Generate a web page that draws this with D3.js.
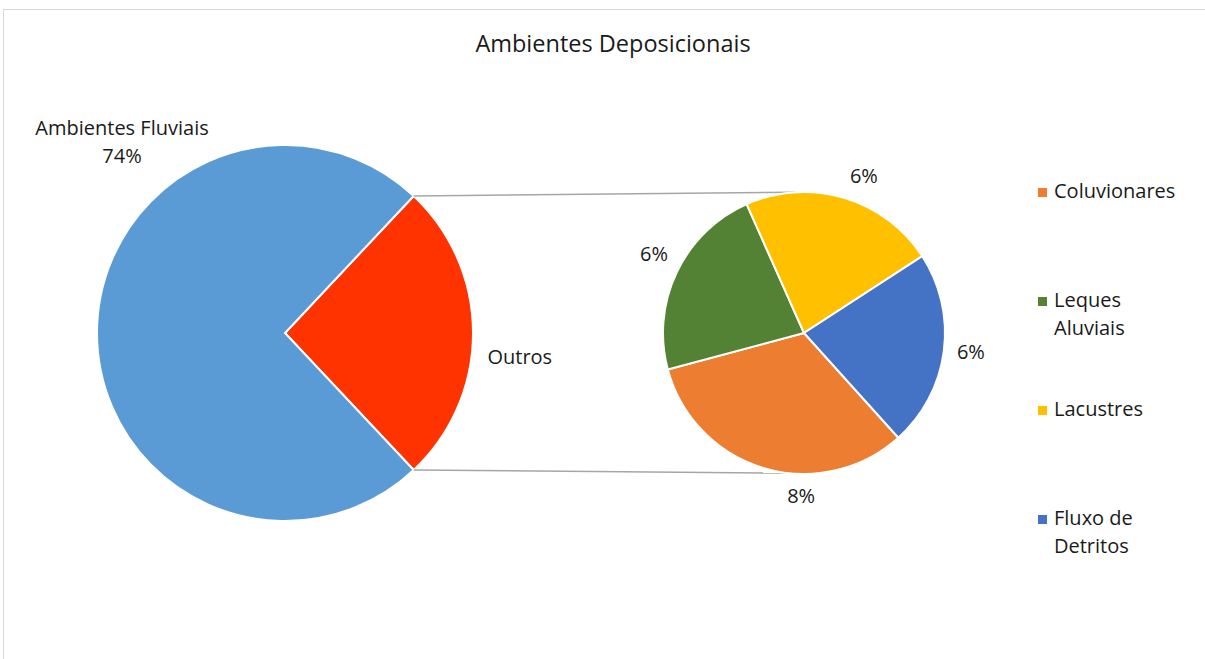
<!DOCTYPE html>
<html>
<head>
<meta charset="utf-8">
<script src="https://cdn.jsdelivr.net/npm/d3@7"></script>
<style>
  body { margin: 0; background: #fff; }
  text { font-family: "Open Sans", "Noto Sans", sans-serif; fill: #1a1a1a; }
</style>
</head>
<body>
<svg></svg>
<script>
// dados
const mainNames = ['Outros', 'Ambientes Fluviais'];
const mainValues = [26, 74];
const subNames = ['Coluvionares', 'Leques Aluviais', 'Lacustres', 'Fluxo de Detritos'];
const subValues = [8.45, 5.85, 5.85, 5.85];
const legendLines = [['Coluvionares'], ['Leques', 'Aluviais'], ['Lacustres'], ['Fluxo de', 'Detritos']];

const mainColors = ['#ff3300', '#5b9bd5'];
const subColors = ['#ed7d31', '#548235', '#ffc000', '#4472c4'];

const svg = d3.select('svg')
  .attr('width', 1205)
  .attr('height', 659);

const rad = a => a * Math.PI / 180;

// borda do grafico
svg.append('rect')
  .attr('x', 3.5).attr('y', 9.5)
  .attr('width', 1220).attr('height', 700)
  .attr('fill', 'none')
  .attr('stroke', '#d9d9d9');

svg.append('text')
  .attr('x', 613).attr('y', 52)
  .attr('text-anchor', 'middle')
  .style('font-size', '23.5px')
  .text('Ambientes Deposicionais');

// pizza principal
const c1 = {x: 285, y: 333, r: 188};
const outrosShare = mainValues[0] / d3.sum(mainValues) * 360;
const mainPie = d3.pie().sort(null).value(d => d)
  .startAngle(rad(90 - outrosShare / 2))
  .endAngle(rad(90 - outrosShare / 2 + 360));
const mainArcs = mainPie(mainValues);
const arc1 = d3.arc().innerRadius(0).outerRadius(c1.r);

const g1 = svg.append('g').attr('transform', `translate(${c1.x},${c1.y})`);
g1.selectAll('path').data(mainArcs)
  .enter().append('path')
  .attr('d', arc1)
  .attr('fill', (d, i) => mainColors[i])
  .attr('stroke', '#fff')
  .attr('stroke-width', 2);

// pizza secundaria
const c2 = {x: 804, y: 333, r: 141};
const subPie = d3.pie().sort(null).value(d => d)
  .startAngle(rad(138))
  .endAngle(rad(138 + 360));
const subArcs = subPie(subValues);
const arc2 = d3.arc().innerRadius(0).outerRadius(c2.r);

// linhas de ligacao
const polar = (c, r, a) => [c.x + r * Math.sin(rad(a)), c.y - r * Math.cos(rad(a))];
const outA = mainArcs[0];
const p1 = polar(c1, c1.r, outA.startAngle * 180 / Math.PI);
const p2 = polar(c1, c1.r, outA.endAngle * 180 / Math.PI);
const q1 = polar(c2, c2.r, -3.5);
const q2 = polar(c2, c2.r, 186.5);
svg.selectAll('line.conn').data([[p1, q1], [p2, q2]])
  .enter().append('line')
  .attr('class', 'conn')
  .attr('x1', d => d[0][0]).attr('y1', d => d[0][1])
  .attr('x2', d => d[1][0]).attr('y2', d => d[1][1])
  .attr('stroke', '#a6a6a6')
  .attr('stroke-width', 1.5);

const g2 = svg.append('g').attr('transform', `translate(${c2.x},${c2.y})`);
g2.selectAll('path').data(subArcs)
  .enter().append('path')
  .attr('d', arc2)
  .attr('fill', (d, i) => subColors[i])
  .attr('stroke', '#fff')
  .attr('stroke-width', 2);

// rotulos
const total = d3.sum(mainValues);
const pct = v => Math.round(v / total * 100) + '%';
const fs = '20px';

// rotulo "Ambientes Fluviais" (Excel o coloca no alto a esquerda)
const lf = polar(c1, 245, 318.3);
const tf = svg.append('text')
  .attr('x', lf[0]).attr('y', lf[1] - 15)
  .attr('text-anchor', 'middle')
  .style('font-size', fs);
tf.append('tspan').attr('x', lf[0]).text(mainNames[1]);
tf.append('tspan').attr('x', lf[0]).attr('dy', 28).text(pct(mainValues[1]));

const lo = polar(c1, 236, 95.8);
svg.append('text')
  .attr('x', lo[0]).attr('y', lo[1] + 7)
  .attr('text-anchor', 'middle')
  .style('font-size', fs)
  .text(mainNames[0]);

const nudge = [-15.5, 2.3, 4.4, -1];
const labelR = [163, 169.5, 168, 168];
svg.selectAll('text.sub').data(subArcs)
  .enter().append('text')
  .attr('class', 'sub')
  .attr('x', (d, i) => polar(c2, labelR[i], (d.startAngle + d.endAngle) / 2 * 180 / Math.PI + nudge[i])[0])
  .attr('y', (d, i) => polar(c2, labelR[i], (d.startAngle + d.endAngle) / 2 * 180 / Math.PI + nudge[i])[1] + 7)
  .attr('text-anchor', 'middle')
  .style('font-size', fs)
  .text(d => pct(d.data));

// legenda
const legendY = d3.scalePoint().domain(subNames).range([198, 525]);
const lg = svg.append('g');
subNames.forEach((name, i) => {
  const y = legendY(name);
  lg.append('rect')
    .attr('x', 1038).attr('y', y - 10)
    .attr('width', 9).attr('height', 9)
    .attr('fill', subColors[i]);
  const t = lg.append('text')
    .attr('x', 1054).attr('y', y)
    .style('font-size', '20px');
  legendLines[i].forEach((ln, j) => {
    t.append('tspan').attr('x', 1054).attr('dy', j ? 28 : 0).text(ln);
  });
});
</script>
</body>
</html>
